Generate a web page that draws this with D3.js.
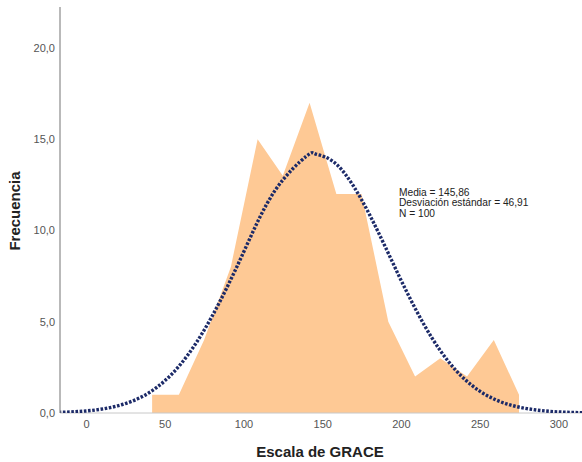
<!DOCTYPE html>
<html>
<head>
<meta charset="utf-8">
<script src="https://cdn.jsdelivr.net/npm/d3@7"></script>
<style>
  body { margin: 0; background: #fff; }
  svg { display: block; font-family: Arial, "Liberation Sans", sans-serif; }
</style>
</head>
<body>
<div id="chart"></div>
<script>
// bin midpoints (Escala de GRACE) and frequencies of the polygon
const midpoints = [42, 59, 75, 92, 109, 125, 142, 159, 175, 192, 209, 225, 242, 259, 275]
const frequencies = [1, 1, 4, 8, 15, 13, 17, 12, 12, 5, 2, 3, 2, 4, 1]

// normal curve
const curveX = [-20, 0, 20, 40, 60, 80, 100, 120, 140, 146, 160, 180, 200, 220, 240, 260, 280, 300, 320]
const curveY = [0.03, 0.11, 0.39, 1.11, 2.66, 5.29, 8.79, 12.18, 14.07, 14.18, 13.55, 10.88, 7.29, 4.07, 1.89, 0.73, 0.24, 0.06, 0.01]

const xTicks = [0, 50, 100, 150, 200, 250, 300]
const yTicks = [0, 5, 10, 15, 20]
const statLines = ['Media = 145,86', 'Desviación estándar = 46,91', 'N = 100']

const width = 582
const height = 462
const margin = { top: 7, right: 0, bottom: 49, left: 60 }

const svg = d3.select('#chart')
  .append('svg')
  .attr('width', width)
  .attr('height', height)

const x = d3.scaleLinear()
  .domain([-16.5, 315])
  .range([margin.left, width - margin.right])

const y = d3.scaleLinear()
  .domain([0, 22.24])
  .range([height - margin.bottom, margin.top])

svg.append('clipPath')
  .attr('id', 'plot')
  .append('rect')
  .attr('x', margin.left)
  .attr('y', margin.top)
  .attr('width', width - margin.left - margin.right)
  .attr('height', height - margin.top - margin.bottom)

// frequency polygon as a filled area
const area = d3.area()
  .x((d, i) => x(midpoints[i]))
  .y0(y(0))
  .y1(d => y(d))

svg.append('path')
  .datum(frequencies)
  .attr('d', area)
  .attr('fill', '#fec995')

// x axis line
svg.append('line')
  .attr('x1', margin.left)
  .attr('x2', width)
  .attr('y1', y(0))
  .attr('y2', y(0))
  .attr('stroke', '#c8c8c8')
  .attr('stroke-width', 1)

// fitted normal curve
const line = d3.line()
  .x((d, i) => x(curveX[i]))
  .y(d => y(d))
  .curve(d3.curveNatural)

svg.append('path')
  .datum(curveY)
  .attr('d', line)
  .attr('clip-path', 'url(#plot)')
  .attr('fill', 'none')
  .attr('stroke', '#1c2a68')
  .attr('stroke-width', 3.4)
  .attr('stroke-dasharray', '2.6,1.6')

// axes
const xAxis = svg.append('g')
  .attr('transform', `translate(0,${y(0)})`)
  .call(d3.axisBottom(x).tickValues(xTicks).tickSize(0).tickPadding(7))
xAxis.select('.domain').remove()

const yAxis = svg.append('g')
  .attr('transform', `translate(${margin.left},0)`)
  .call(d3.axisLeft(y).tickValues(yTicks).tickSize(0).tickPadding(5)
    .tickFormat(d => d3.format('.1f')(d).replace('.', ',')))
yAxis.select('.domain')
  .attr('d', `M0,${margin.top}V${y(0)}`)
  .attr('stroke', '#8a8a8a')
  .attr('stroke-width', 1.2)

svg.selectAll('.tick text')
  .attr('fill', '#555')
  .style('font-size', '11px')
  .style('font-family', 'Arial, "Liberation Sans", sans-serif')

// axis titles
svg.append('text')
  .attr('x', 320)
  .attr('y', 457)
  .attr('text-anchor', 'middle')
  .style('font-size', '15px')
  .style('font-weight', 'bold')
  .attr('fill', '#222')
  .text('Escala de GRACE')

svg.append('text')
  .attr('transform', 'translate(20,211) rotate(-90)')
  .attr('text-anchor', 'middle')
  .style('font-size', '15px')
  .style('font-weight', 'bold')
  .attr('fill', '#222')
  .text('Frecuencia')

// statistics box
svg.append('g')
  .selectAll('text')
  .data(statLines)
  .enter()
  .append('text')
  .attr('x', 399)
  .attr('y', (d, i) => 195.5 + i * 10.7)
  .style('font-size', '10.2px')
  .attr('fill', '#222')
  .text(d => d)
</script>
</body>
</html>
